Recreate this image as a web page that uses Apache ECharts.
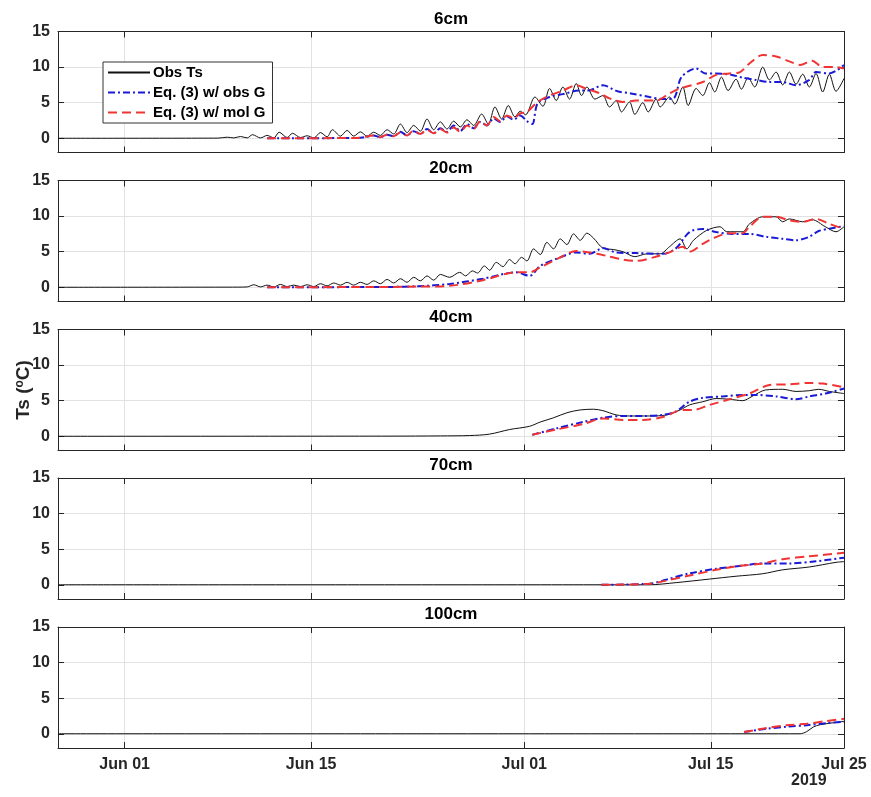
<!DOCTYPE html>
<html>
<head>
<meta charset="utf-8">
<script src="https://cdn.jsdelivr.net/npm/echarts@6/dist/echarts.min.js"></script>
<style>
  html, body { margin: 0; background: #fff; }
  #chart { width: 871px; height: 797px; }
</style>
</head>
<body>
<div id="chart"></div>
<script>
// x values are days counted from Jun 01 2019
const depths = ['6cm', '20cm', '40cm', '70cm', '100cm']
const tickDays = [0, 14, 30, 44, 54]
const tickLabels = ['Jun 01', 'Jun 15', 'Jul 01', 'Jul 15', 'Jul 25']
const yTicks = [0, 5, 10, 15]
const seriesNames = ['Obs Ts', 'Eq. (3) w/ obs G', 'Eq. (3) w/ mol G']

const obs6 = [[-5, 0], [7, 0.02], [7.7, 0.15], [8.2, 0.05], [8.7, 0.25], [9.2, 0.05], [9.6, 0.5], [10.2, 0.05], [10.7, 0.4], [11.2, 0.05], [11.6, 0.85], [12.2, 0.1], [12.6, 0.7], [13.2, 0.1], [13.7, 0.35], [14.2, 0.05], [14.7, 0.8], [15.2, 0.2], [15.6, 1.2], [16.2, 0.3], [16.7, 1.1], [17.2, 0.3], [17.7, 0.9], [18.2, 0.3], [18.7, 0.85], [19.2, 0.4], [19.7, 1.2], [20.2, 0.6], [20.7, 2.0], [21.2, 0.8], [21.7, 1.8], [22.2, 1.0], [22.7, 2.7], [23.2, 1.2], [23.7, 2.3], [24.2, 1.3], [24.7, 2.4], [25.2, 1.6], [25.7, 2.6], [26.2, 1.8], [26.8, 3.4], [27.3, 2.0], [27.8, 4.4], [28.3, 2.7], [28.8, 4.6], [29.3, 3.0], [29.7, 3.8], [30.1, 3.3], [30.8, 5.8], [31.4, 4.5], [31.9, 7.0], [32.4, 5.3], [32.9, 7.2], [33.4, 5.5], [33.9, 7.7], [34.3, 6.0], [34.7, 7.2], [35.3, 5.5], [35.9, 6.0], [36.4, 4.4], [36.9, 5.3], [37.3, 3.7], [37.9, 5.1], [38.3, 3.35], [38.9, 5.0], [39.3, 3.7], [39.9, 5.5], [40.2, 4.4], [40.9, 5.8], [41.3, 4.8], [41.9, 7.2], [42.3, 4.6], [42.9, 7.0], [43.4, 6.0], [43.9, 7.8], [44.3, 6.5], [44.8, 8.6], [45.3, 6.7], [45.9, 8.3], [46.3, 6.9], [46.8, 8.5], [47.3, 7.2], [47.9, 10.0], [48.4, 8.2], [48.9, 9.3], [49.4, 7.5], [49.9, 9.3], [50.4, 7.6], [50.9, 9.0], [51.4, 7.2], [51.9, 9.1], [52.4, 6.5], [52.9, 9.0], [53.4, 6.6], [54, 8.4]]
const eqObs6 = [[10.7, 0], [17.5, 0.05], [18.2, 0.2], [18.7, 0.4], [19.2, 0.15], [19.7, 0.5], [20.2, 0.3], [20.7, 0.9], [21.2, 0.4], [21.7, 1.0], [22.2, 0.6], [22.7, 1.3], [23.2, 0.7], [23.7, 1.4], [24.2, 0.9], [24.7, 1.8], [25.2, 1.0], [25.7, 2.0], [26.2, 1.4], [26.7, 2.3], [27.2, 1.8], [27.7, 2.8], [28.2, 2.3], [28.7, 3.1], [29.2, 2.6], [29.7, 3.2], [30.2, 2.4], [30.6, 2.0], [31.0, 4.9], [31.9, 5.8], [32.9, 6.2], [34.1, 6.7], [34.8, 6.7], [35.9, 7.45], [37.0, 6.6], [38.0, 6.3], [39.4, 5.8], [40.4, 5.5], [41.2, 5.6], [41.8, 8.6], [42.9, 9.8], [43.6, 9.1], [44.4, 9.1], [45.6, 8.9], [46.4, 8.5], [47.4, 8.2], [48.4, 7.9], [49.4, 7.9], [50.4, 7.45], [51.4, 8.2], [51.9, 9.3], [52.9, 9.1], [54, 10.3]]
const eqMol6 = [[10.7, 0], [17.5, 0.05], [18.1, 0.2], [18.6, 0.4], [19.2, 0.15], [19.7, 0.5], [20.2, 0.3], [20.7, 0.8], [21.2, 0.4], [21.7, 1.1], [22.2, 0.6], [22.7, 1.2], [23.2, 0.7], [23.7, 1.3], [24.2, 0.8], [24.7, 1.5], [25.2, 0.9], [25.7, 1.8], [26.2, 1.3], [26.7, 2.4], [27.2, 1.8], [27.7, 3.0], [28.2, 2.4], [28.7, 3.2], [29.2, 2.8], [29.7, 3.5], [30.2, 3.7], [31.0, 5.1], [31.9, 6.0], [32.9, 6.7], [33.9, 7.45], [34.6, 7.0], [35.7, 6.3], [36.4, 5.6], [37.4, 5.1], [38.4, 5.3], [39.9, 5.3], [40.9, 6.3], [41.7, 7.0], [43.4, 7.9], [44.4, 8.9], [45.4, 9.1], [46.2, 9.3], [46.9, 10.5], [47.9, 11.7], [48.9, 11.5], [49.9, 10.8], [50.7, 10.3], [51.6, 10.9], [52.4, 10.0], [53.4, 10.0], [54, 9.8]]

const obs20 = [[-5, 0], [8.5, 0.02], [9.2, 0.05], [9.7, 0.35], [10.2, 0.05], [10.7, 0.3], [11.2, 0.05], [11.7, 0.4], [12.2, 0.1], [12.7, 0.3], [13.2, 0.1], [13.7, 0.35], [14.2, 0.1], [14.7, 0.5], [15.2, 0.2], [15.7, 0.6], [16.2, 0.3], [16.7, 0.7], [17.2, 0.3], [17.7, 0.7], [18.2, 0.4], [18.7, 0.9], [19.2, 0.5], [19.7, 1.1], [20.2, 0.6], [20.7, 1.2], [21.2, 0.7], [21.7, 1.4], [22.2, 0.9], [22.7, 1.6], [23.2, 1.0], [23.7, 1.8], [24.4, 1.4], [25.15, 2.1], [25.6, 1.6], [26.1, 2.3], [26.5, 2.0], [27.0, 3.0], [27.4, 2.4], [27.9, 3.5], [28.4, 2.9], [28.9, 3.9], [29.3, 3.3], [29.8, 4.2], [30.2, 3.7], [30.7, 5.4], [31.2, 4.6], [31.7, 6.3], [32.2, 5.4], [32.7, 6.8], [33.2, 6.0], [33.7, 7.5], [34.2, 6.6], [34.7, 7.6], [35.2, 6.9], [35.9, 5.5], [36.7, 5.3], [37.4, 5.0], [38.3, 4.3], [39.2, 4.7], [40.2, 4.7], [40.9, 5.7], [41.7, 6.8], [42.2, 5.4], [42.7, 6.6], [43.7, 8.0], [44.7, 8.5], [45.2, 7.8], [46.4, 7.8], [46.9, 8.9], [47.9, 9.9], [48.9, 9.9], [49.4, 9.2], [49.9, 9.6], [50.9, 9.2], [51.6, 9.5], [52.6, 8.5], [53.4, 7.8], [54, 8.5]]
const eqObs20 = [[10.7, 0], [20, 0.05], [22, 0.15], [24.4, 0.45], [26.9, 1.2], [29.4, 2.1], [30.4, 1.6], [31.2, 3.0], [32.7, 4.2], [33.9, 4.9], [34.9, 4.7], [35.9, 5.5], [36.9, 4.9], [38.4, 4.8], [40.4, 4.7], [41.4, 5.5], [42.4, 7.75], [43.4, 8.2], [44.4, 7.75], [45.6, 7.5], [46.9, 7.5], [48.1, 7.1], [49.4, 6.8], [50.4, 6.6], [51.4, 7.1], [52.1, 7.9], [53.1, 8.3], [54, 8.6]]
const eqMol20 = [[10.7, 0], [20, 0.05], [22, 0.1], [24.4, 0.2], [26.9, 1.0], [29.4, 2.1], [30.4, 2.1], [31.2, 2.8], [32.7, 4.2], [33.9, 5.1], [34.9, 4.9], [36.2, 4.4], [37.4, 3.9], [38.4, 3.7], [39.7, 4.2], [40.9, 4.9], [41.9, 5.7], [42.4, 5.0], [43.4, 6.1], [44.2, 6.9], [45.4, 7.6], [46.4, 7.6], [46.9, 8.5], [47.9, 9.9], [48.9, 9.9], [49.9, 9.4], [50.9, 9.2], [51.9, 9.6], [52.9, 8.9], [54, 8.2]]

const obs40 = [[-5, 0], [20, 0.02], [23.7, 0.05], [25.9, 0.1], [27.4, 0.3], [28.9, 0.95], [30.4, 1.4], [31.2, 2.0], [32.2, 2.6], [33.2, 3.3], [34.2, 3.7], [35.2, 3.8], [35.9, 3.6], [36.9, 3.0], [37.9, 2.85], [39.4, 2.85], [40.7, 3.0], [41.7, 3.7], [42.4, 4.4], [43.4, 4.85], [44.4, 5.3], [45.4, 5.2], [46.4, 5.0], [47.1, 5.6], [48.1, 6.5], [49.4, 6.6], [50.4, 6.3], [51.4, 6.4], [52.1, 6.6], [52.9, 6.3], [54, 6.0]]
const eqObs40 = [[30.6, 0.2], [32.4, 1.1], [34.4, 2.0], [35.9, 2.6], [37.4, 2.85], [38.9, 2.85], [40.4, 3.0], [41.4, 3.5], [42.4, 4.85], [43.4, 5.4], [44.9, 5.6], [46.4, 5.8], [47.4, 5.8], [48.9, 5.6], [50.4, 5.2], [51.4, 5.6], [52.6, 6.0], [54, 6.7]]
const eqMol40 = [[30.6, 0.2], [32.4, 0.95], [34.4, 1.7], [35.9, 2.5], [37.4, 2.3], [38.9, 2.3], [40.4, 2.7], [41.9, 3.7], [42.7, 3.7], [43.9, 4.4], [45.4, 5.2], [46.9, 6.0], [48.4, 7.2], [49.9, 7.3], [51.4, 7.5], [52.4, 7.4], [54, 6.9]]

const obs70 = [[-5, 0], [39.4, 0], [41.4, 0.3], [43.9, 0.8], [45.9, 1.2], [47.9, 1.55], [49.4, 2.1], [51.4, 2.5], [53.4, 3.15], [54, 3.25]]
const eqObs70 = [[35.8, 0], [39.4, 0.15], [40.7, 0.75], [42.4, 1.6], [44.4, 2.25], [46.4, 2.7], [47.9, 3.0], [49.9, 3.0], [51.9, 3.3], [54, 3.8]]
const eqMol70 = [[35.8, 0], [39.4, 0.15], [40.7, 0.6], [42.4, 1.3], [44.4, 2.1], [45.9, 2.6], [47.9, 3.0], [49.4, 3.6], [51.4, 4.0], [54, 4.5]]

const obs100 = [[-5, 0], [50.7, 0], [51.2, 0.3], [51.7, 0.95], [52.2, 1.27], [54, 1.74]]
const eqObs100 = [[46.5, 0.25], [48.2, 0.7], [49.7, 1.0], [51.2, 1.2], [52.7, 1.5], [54, 1.7]]
const eqMol100 = [[46.5, 0.25], [48.2, 0.8], [49.7, 1.2], [51.2, 1.4], [52.7, 1.8], [54, 2.1]]

const panelData = [
  [obs6, eqObs6, eqMol6],
  [obs20, eqObs20, eqMol20],
  [obs40, eqObs40, eqMol40],
  [obs70, eqObs70, eqMol70],
  [obs100, eqObs100, eqMol100]
]

const FONT = 'Liberation Sans, Arial, Helvetica, sans-serif'
const PANEL_TOPS = [31.5, 180.5, 329.5, 478, 627]
const PANEL_HEIGHT = 121
const AXIS_COLOR = '#262626'
const GRID_COLOR = '#e2e2e2'
const LINE_STYLES = [
  { color: '#111111', width: 1, type: 'solid' },
  { color: '#1a1ad6', width: 2, type: [7, 3, 2, 3] },
  { color: '#f03434', width: 2, type: [9, 5] }
]

const chart = echarts.init(document.getElementById('chart'))

const grids = PANEL_TOPS.map((top) => ({ left: 58, right: 27, top, height: PANEL_HEIGHT }))

const xAxes = []
const yAxes = []
depths.forEach((_, i) => {
  xAxes.push({
    type: 'value', gridIndex: i, min: -5, max: 54, position: 'bottom',
    axisLine: { show: true, onZero: false, lineStyle: { color: AXIS_COLOR } },
    axisTick: { show: true, inside: true, length: 6, customValues: tickDays, lineStyle: { color: AXIS_COLOR } },
    axisLabel: {
      show: i === depths.length - 1,
      customValues: tickDays,
      formatter: (v) => tickLabels[tickDays.indexOf(v)] || '',
      margin: 9,
      color: AXIS_COLOR,
      fontFamily: FONT,
      fontWeight: 'bold',
      fontSize: 16
    },
    splitLine: { show: true, lineStyle: { color: GRID_COLOR } }
  })
  xAxes.push({
    type: 'value', gridIndex: i, min: -5, max: 54, position: 'top',
    axisLine: { show: true, onZero: false, lineStyle: { color: AXIS_COLOR } },
    axisTick: { show: true, inside: true, length: 6, customValues: tickDays, lineStyle: { color: AXIS_COLOR } },
    axisLabel: { show: false },
    splitLine: { show: false }
  })
  const left = {
    type: 'value', gridIndex: i, min: -2, max: 15, position: 'left',
    axisLine: { show: true, onZero: false, lineStyle: { color: AXIS_COLOR } },
    axisTick: { show: true, inside: true, length: 6, customValues: yTicks, lineStyle: { color: AXIS_COLOR } },
    axisLabel: {
      customValues: yTicks,
      margin: 8,
      color: AXIS_COLOR,
      fontFamily: FONT,
      fontWeight: 'bold',
      fontSize: 16
    },
    splitLine: { show: true, lineStyle: { color: GRID_COLOR } }
  }
  if (i === 2) {
    left.name = '{a|Ts (}{b|o}{a|C)}'
    left.nameLocation = 'middle'
    left.nameGap = 25
    left.nameMoveOverlap = false
    left.nameRotate = 90
    left.nameTextStyle = {
      rich: {
        a: { fontFamily: FONT, fontWeight: 'bold', fontSize: 19, color: AXIS_COLOR },
        b: { fontFamily: FONT, fontWeight: 'bold', fontSize: 12, color: AXIS_COLOR, verticalAlign: 'top', padding: [0, 0, 7, 0] }
      }
    }
  }
  yAxes.push(left)
  yAxes.push({
    type: 'value', gridIndex: i, min: -2, max: 15, position: 'right',
    axisLine: { show: true, onZero: false, lineStyle: { color: AXIS_COLOR } },
    axisTick: { show: true, inside: true, length: 6, customValues: yTicks, lineStyle: { color: AXIS_COLOR } },
    axisLabel: { show: false },
    splitLine: { show: false }
  })
})

const series = []
panelData.forEach((group, i) => {
  group.forEach((data, k) => {
    series.push({
      name: seriesNames[k],
      type: 'line',
      xAxisIndex: i * 2,
      yAxisIndex: i * 2,
      data,
      symbol: 'none',
      smooth: 0.3,
      color: LINE_STYLES[k].color,
      lineStyle: LINE_STYLES[k],
      z: 2 + k
    })
  })
})

chart.setOption({
  animation: false,
  backgroundColor: '#fff',
  title: depths.map((d, i) => ({
    text: d,
    left: 451,
    top: PANEL_TOPS[i] - 21,
    textAlign: 'center',
    padding: 0,
    textStyle: { fontFamily: FONT, fontWeight: 'bold', fontSize: 17, color: '#000' }
  })),
  legend: {
    data: seriesNames,
    orient: 'vertical',
    left: 103,
    top: 62,
    itemWidth: 42,
    itemHeight: 12,
    itemGap: 5,
    padding: [3, 7, 3, 4],
    backgroundColor: '#fff',
    borderColor: '#333',
    borderWidth: 1,
    borderRadius: 0,
    itemStyle: { opacity: 0 },
    textStyle: { fontFamily: FONT, fontWeight: 'bold', fontSize: 15, color: '#000', padding: [0, 0, 0, -2] }
  },
  grid: grids,
  xAxis: xAxes,
  yAxis: yAxes,
  graphic: [{
    type: 'text',
    left: 791,
    top: 773,
    style: { text: '2019', fontFamily: FONT, fontWeight: 'bold', fontSize: 16, fill: AXIS_COLOR }
  }],
  series
})
</script>
</body>
</html>
